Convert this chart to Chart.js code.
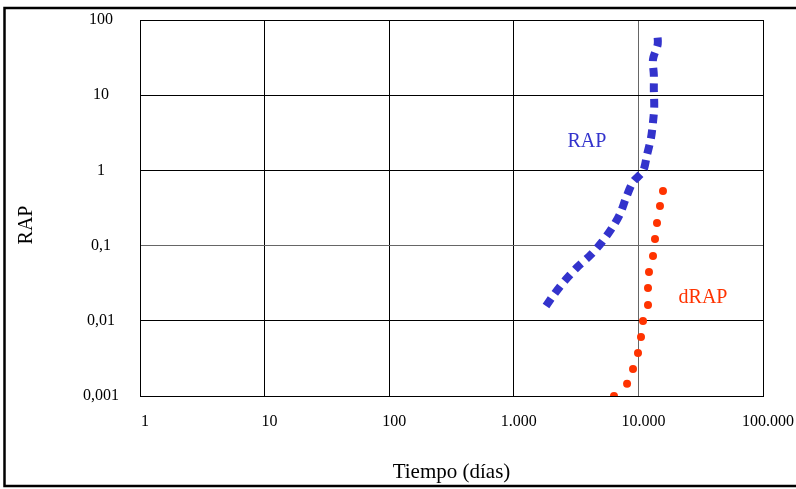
<!DOCTYPE html>
<html lang="es">
<head>
    <meta charset="UTF-8">
    <title>RAP vs Tiempo</title>
    <script src="https://cdn.jsdelivr.net/npm/chart.js"></script>
    <style>
        body {
            margin: 0;
            padding: 0;
            background: #ffffff;
        }
        #wrap {
            width: 796px;
            height: 489px;
            position: relative;
        }
    </style>
</head>
<body>
<div id="wrap">
    <canvas id="rapChart"></canvas>
</div>
<script>
// Axis decades and their labels (Spanish number format)
const xTicks = [1, 10, 100, 1000, 10000, 100000];
const xTickLabels = ['1', '10', '100', '1.000', '10.000', '100.000'];
const yTicks = [0.001, 0.01, 0.1, 1, 10, 100];
const yTickLabels = ['0,001', '0,01', '0,1', '1', '10', '100'];

// RAP curve (tiempo en días, RAP)
const rapDias = [1813, 2142, 2600, 3250, 4167, 5102, 6138, 7117, 7950, 9053, 10890, 11720, 12620, 13100, 13400, 13300, 13300, 13100, 14300, 14100];
const rapValores = [0.0157, 0.0234, 0.0350, 0.0520, 0.0760, 0.1117, 0.171, 0.263, 0.43, 0.70, 0.98, 1.60, 2.70, 4.40, 7.0, 11.7, 18.6, 30, 48, 70];

// dRAP (derivada)
const drapDias = [6368, 8110, 9053, 9925, 10490, 10890, 11940, 11940, 12160, 13100, 13590, 14100, 14900, 15750];
const drapValores = [0.001, 0.00145, 0.00229, 0.00373, 0.0061, 0.00993, 0.0162, 0.0273, 0.0446, 0.0728, 0.1225, 0.200, 0.336, 0.532];

const serif = "'Liberation Serif', 'DejaVu Serif', serif";

// series names written next to each curve
const seriesLabels = [
    { text: 'RAP', x: 3865, y: 2.39, color: '#3333CC' },
    { text: 'dRAP', x: 33000, y: 0.0201, color: '#FF3300' }
];

// keep the plot box fixed: no extra room for overhanging tick labels
function fixBox(s, size) {
    if (s.isHorizontal()) s.height = size; else s.width = size;
    s.paddingTop = s.paddingBottom = s.paddingLeft = s.paddingRight = 0;
}

const framePlugin = {
    id: 'frame',
    beforeDraw(chart) {
        const c = chart.ctx;
        c.save();
        c.fillStyle = '#ffffff';
        c.fillRect(0, 0, chart.width, chart.height);
        // outer frame, its right side runs off the canvas
        c.strokeStyle = '#000000';
        c.lineWidth = 2.5;
        c.strokeRect(4.5, 8, 800, 478);
        c.restore();
    },
    afterDatasetsDraw(chart) {
        const c = chart.ctx;
        const xs = chart.scales.x, ys = chart.scales.y;
        c.save();
        c.font = '20px ' + serif;
        c.textAlign = 'center';
        c.textBaseline = 'middle';
        seriesLabels.forEach(l => {
            c.fillStyle = l.color;
            c.fillText(l.text, xs.getPixelForValue(l.x), ys.getPixelForValue(l.y));
        });
        // y axis title, set a little below the middle of the axis
        c.fillStyle = '#000000';
        c.translate(27, 225);
        c.rotate(-Math.PI / 2);
        c.fillText('RAP', 0, 0);
        c.restore();
    }
};

const ctx = document.getElementById('rapChart').getContext('2d');
new Chart(ctx, {
    type: 'scatter',
    data: {
        datasets: [{
            label: 'RAP',
            data: rapDias.map((d, i) => ({ x: d, y: rapValores[i] })),
            showLine: true,
            borderColor: '#3333CC',
            borderWidth: 8,
            borderDash: [9, 6.5],
            borderCapStyle: 'butt',
            pointRadius: 0,
            tension: 0.3
        }, {
            label: 'dRAP',
            data: drapDias.map((d, i) => ({ x: d, y: drapValores[i] })),
            showLine: false,
            backgroundColor: '#FF3300',
            borderWidth: 0,
            pointRadius: 4
        }]
    },
    options: {
        responsive: true,
        maintainAspectRatio: false,
        animation: false,
        layout: { padding: { top: 20, right: 33, left: 0, bottom: 0 } },
        plugins: {
            legend: { display: false },
            tooltip: { enabled: false }
        },
        scales: {
            x: {
                type: 'logarithmic',
                min: 1,
                max: 100000,
                afterBuildTicks: s => { s.ticks = xTicks.map(v => ({ value: v })); },
                afterFit: s => fixBox(s, 93),
                ticks: {
                    autoSkip: false,
                    maxRotation: 0,
                    padding: 16,
                    labelOffset: 5,
                    color: '#000000',
                    font: { family: serif, size: 16 },
                    callback: v => xTickLabels[xTicks.indexOf(v)]
                },
                grid: {
                    drawTicks: false,
                    lineWidth: 1,
                    color: c => (c.tick && c.tick.value === 10000) ? '#666666' : '#000000'
                },
                border: { color: '#000000' },
                title: {
                    display: true,
                    text: 'Tiempo (días)',
                    color: '#000000',
                    font: { family: serif, size: 21 },
                    padding: { top: 4, bottom: 4 }
                }
            },
            y: {
                type: 'logarithmic',
                min: 0.001,
                max: 100,
                afterBuildTicks: s => { s.ticks = yTicks.map(v => ({ value: v })); },
                afterFit: s => fixBox(s, 140),
                ticks: {
                    autoSkip: false,
                    crossAlign: 'center',
                    padding: 21,
                    color: '#000000',
                    font: { family: serif, size: 16 },
                    callback: v => yTickLabels[yTicks.indexOf(v)]
                },
                grid: {
                    drawTicks: false,
                    lineWidth: 1,
                    color: c => (c.tick && c.tick.value === 0.1) ? '#666666' : '#000000'
                },
                border: { color: '#000000' }
            }
        }
    },
    plugins: [framePlugin]
});
</script>
</body>
</html>
